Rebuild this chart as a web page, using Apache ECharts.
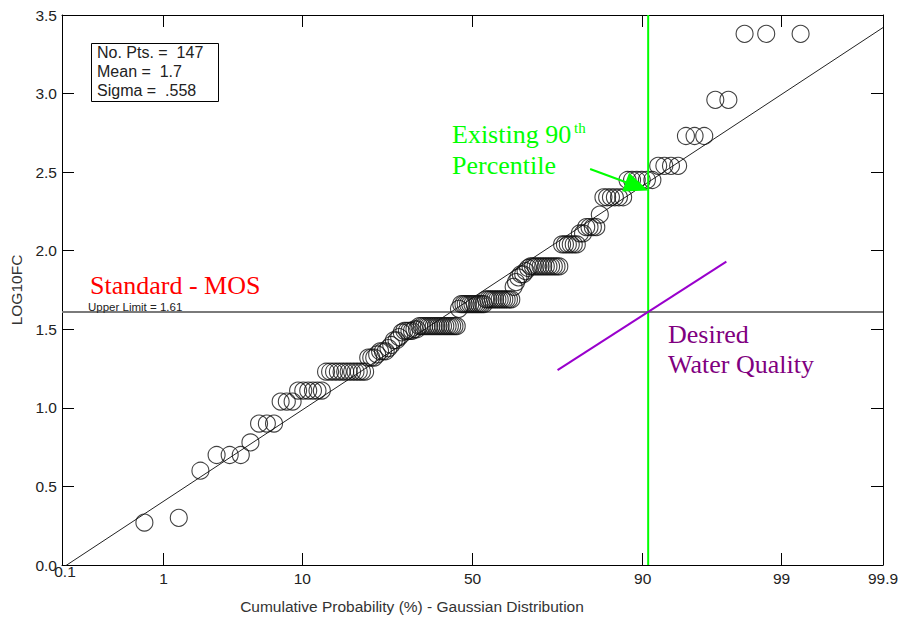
<!DOCTYPE html>
<html><head><meta charset="utf-8">
<script src="https://cdn.jsdelivr.net/npm/echarts@6/dist/echarts.min.js"></script>
<style>html,body{margin:0;padding:0;background:#fff}#c{width:903px;height:620px}</style>
</head><body><div id="c"></div>
<script>
// ---- data ----
const xTickPercents = [0.1, 1, 10, 50, 90, 99, 99.9];
const xTickLabels = ['0.1', '1', '10', '50', '90', '99', '99.9'];
const yMin = 0, yMax = 3.5, yStep = 0.5;
// sorted LOG10FC sample values (147 points)
const log10fc = [
  0.27, 0.30, 0.60, 0.70, 0.70, 0.70, 0.78, 0.90, 0.90, 0.90, 1.04, 1.04, 1.04,
  1.11, 1.11, 1.11, 1.11, 1.11, 1.11,
  1.23, 1.23, 1.23, 1.23, 1.23, 1.23, 1.23, 1.23, 1.23, 1.23, 1.23, 1.23,
  1.32, 1.32, 1.32, 1.34, 1.36, 1.36, 1.36, 1.38, 1.40, 1.43, 1.43, 1.45, 1.48, 1.49, 1.49, 1.49, 1.49, 1.50, 1.50,
  1.52, 1.52, 1.52, 1.52, 1.52, 1.52, 1.52, 1.52, 1.52, 1.52, 1.52, 1.52, 1.52, 1.52, 1.52, 1.52, 1.52,
  1.63,
  1.66, 1.66, 1.66, 1.66, 1.66, 1.66, 1.66, 1.66, 1.66, 1.66, 1.66,
  1.69, 1.69, 1.69, 1.69, 1.69, 1.69, 1.69, 1.69, 1.69, 1.69, 1.69, 1.69,
  1.77, 1.80, 1.83, 1.85, 1.85, 1.87, 1.89,
  1.90, 1.90, 1.90, 1.90, 1.90, 1.90, 1.90, 1.90, 1.90, 1.90, 1.90, 1.90,
  2.04, 2.04, 2.04, 2.04, 2.04, 2.04,
  2.11, 2.11, 2.15, 2.15, 2.15, 2.15, 2.23,
  2.34, 2.34, 2.34, 2.34, 2.34, 2.34,
  2.45, 2.45, 2.45, 2.45, 2.45, 2.45,
  2.54, 2.54, 2.54, 2.54,
  2.73, 2.73, 2.73,
  2.96, 2.96,
  3.38, 3.38, 3.38
];
const statLabels = ['No. Pts. =  147', 'Mean =  1.7', 'Sigma =  .558'];
const fitPct = [0.1, 99.9];
const fitVal = [-0.02, 3.42];
const upperLimit = 1.61;
const greenPct = 90.7;
const purplePct = [73.9, 97.2];
const purpleVal = [1.24, 1.93];
const arrowPct = [81.2, 89.2];
const arrowVal = [2.52, 2.41];

// ---- Gaussian probability scale (inverse normal CDF) ----
function invNorm(p) {
  const a = [-3.969683028665376e+01, 2.209460984245205e+02, -2.759285104469687e+02, 1.383577518672690e+02, -3.066479806614716e+01, 2.506628277459239e+00];
  const b = [-5.447609879822406e+01, 1.615858368580409e+02, -1.556989798598866e+02, 6.680131188771972e+01, -1.328068155288572e+01];
  const c = [-7.784894002430293e-03, -3.223964580411365e-01, -2.400758277161838e+00, -2.549732539343734e+00, 4.374664141464968e+00, 2.938163982698783e+00];
  const d = [7.784695709041462e-03, 3.224671290700398e-01, 2.445134137142996e+00, 3.754408661907416e+00];
  const pl = 0.02425, ph = 1 - pl;
  let q, r;
  if (p < pl) { q = Math.sqrt(-2 * Math.log(p)); return (((((c[0]*q+c[1])*q+c[2])*q+c[3])*q+c[4])*q+c[5]) / ((((d[0]*q+d[1])*q+d[2])*q+d[3])*q+1); }
  if (p <= ph) { q = p - 0.5; r = q*q; return (((((a[0]*r+a[1])*r+a[2])*r+a[3])*r+a[4])*r+a[5])*q / (((((b[0]*r+b[1])*r+b[2])*r+b[3])*r+b[4])*r+1); }
  q = Math.sqrt(-2 * Math.log(1 - p)); return -(((((c[0]*q+c[1])*q+c[2])*q+c[3])*q+c[4])*q+c[5]) / ((((d[0]*q+d[1])*q+d[2])*q+d[3])*q+1);
}
const zOf = pct => invNorm(pct / 100);
const xTickZ = xTickPercents.map(zOf);
const zMin = xTickZ[0], zMax = xTickZ[xTickZ.length - 1];
const n = log10fc.length;
// Weibull plotting position of each ranked value
const scatterData = log10fc.map((v, i) => [invNorm((i + 1) / (n + 1)), v]);

const SANS = '"Liberation Sans", Arial, sans-serif';
const SERIF = '"Liberation Serif", "Times New Roman", serif';
const labelFor = v => { for (let i = 0; i < xTickZ.length; i++) if (Math.abs(xTickZ[i] - v) < 1e-7) return i === 0 ? '' : xTickLabels[i]; return ''; };

const xBase = {
  type: 'value', min: zMin, max: zMax,
  axisLine: { show: true, onZero: false, lineStyle: { color: '#000', width: 1 } },
  axisTick: { show: true, inside: true, length: 12, customValues: xTickZ, lineStyle: { color: '#000', width: 1 } },
  splitLine: { show: false }
};
const yBase = {
  type: 'value', min: yMin, max: yMax, interval: yStep,
  axisLine: { show: true, onZero: false, lineStyle: { color: '#000', width: 1 } },
  axisTick: { show: true, inside: true, length: 12, lineStyle: { color: '#000', width: 1 } },
  splitLine: { show: false }
};

const chart = echarts.init(document.getElementById('c'), null, { renderer: 'svg' });
chart.setOption({
  animation: false,
  backgroundColor: '#fff',
  grid: { left: 62, right: 20, top: 15, bottom: 55, containLabel: false, outerBoundsMode: 'none' },
  xAxis: [
    Object.assign({}, xBase, { position: 'bottom',
      axisLabel: { show: true, customValues: xTickZ, formatter: labelFor, color: '#222', fontSize: 15.5, fontFamily: SANS, margin: 5, showMinLabel: true, showMaxLabel: true } }),
    Object.assign({}, xBase, { position: 'top', axisLabel: { show: false } })
  ],
  yAxis: [
    Object.assign({}, yBase, { position: 'left',
      name: 'LOG10FC', nameLocation: 'middle', nameGap: 38,
      nameTextStyle: { color: '#333', fontSize: 15.5, fontFamily: SANS },
      axisLabel: { show: true, formatter: v => v.toFixed(1), color: '#222', fontSize: 15.5, fontFamily: SANS, margin: 5 } }),
    Object.assign({}, yBase, { position: 'right', axisLabel: { show: false } })
  ],
  series: [
    { type: 'line', name: 'upper', data: [[zMin, upperLimit], [zMax, upperLimit]],
      showSymbol: false, lineStyle: { color: '#7a7a7a', width: 2 }, silent: true, z: 2 },
    { type: 'line', name: 'fit', data: fitPct.map((p, i) => [zOf(p), fitVal[i]]),
      showSymbol: false, lineStyle: { color: '#222', width: 1 }, silent: true, clip: true, z: 2 },
    { type: 'scatter', name: 'LOG10FC', data: scatterData, symbol: 'circle', symbolSize: 17,
      itemStyle: { color: 'rgba(0,0,0,0)', borderColor: '#111', borderWidth: 1.1 }, z: 3 },
    { type: 'line', name: 'p90', data: [[zOf(greenPct), yMin], [zOf(greenPct), yMax]],
      showSymbol: false, lineStyle: { color: '#00ff00', width: 2 }, silent: true, z: 4 },
    { type: 'line', name: 'desired', data: purplePct.map((p, i) => [zOf(p), purpleVal[i]]),
      showSymbol: false, lineStyle: { color: '#9900cc', width: 2 }, silent: true, z: 4 },
    { type: 'line', name: 'arrow', data: [], silent: true, z: 5,
      markLine: { silent: true, symbol: ['none', 'triangle'], symbolSize: [20, 24], animation: false,
        label: { show: false }, lineStyle: { color: '#00ff00', width: 2, type: 'solid' },
        data: [[{ coord: [zOf(arrowPct[0]), arrowVal[0]] }, { coord: [zOf(arrowPct[1]), arrowVal[1]] }]] } }
  ],
  graphic: [
    { type: 'text', x: 65, y: 571, style: { text: xTickLabels[0], fill: '#222', font: '15.5px ' + SANS, align: 'center', verticalAlign: 'middle' } },
    { type: 'text', x: 412, y: 606, style: { text: 'Cumulative Probability (%) - Gaussian Distribution', fill: '#333', font: '15.5px ' + SANS, align: 'center', verticalAlign: 'middle' } },
    { type: 'rect', x: 91.5, y: 43.5, shape: { width: 127, height: 58 }, style: { fill: '#fff', stroke: '#000', lineWidth: 1 }, z: 10 },
    { type: 'text', x: 97, y: 52, style: { text: statLabels[0], fill: '#222', font: '16px ' + SANS, verticalAlign: 'middle' }, z: 11 },
    { type: 'text', x: 97, y: 71, style: { text: statLabels[1], fill: '#222', font: '16px ' + SANS, verticalAlign: 'middle' }, z: 11 },
    { type: 'text', x: 97, y: 90, style: { text: statLabels[2], fill: '#222', font: '16px ' + SANS, verticalAlign: 'middle' }, z: 11 },
    { type: 'text', x: 90, y: 285, style: { text: 'Standard - MOS', fill: '#ff0000', font: '26px ' + SERIF, verticalAlign: 'middle' }, z: 11 },
    { type: 'text', x: 88, y: 306.5, style: { text: 'Upper Limit = ' + upperLimit, fill: '#222', font: '11.5px ' + SANS, verticalAlign: 'middle' }, z: 11 },
    { type: 'text', x: 452, y: 134.5, style: { text: 'Existing 90', fill: '#00ff00', font: '26px ' + SERIF, verticalAlign: 'middle' }, z: 11 },
    { type: 'text', x: 574, y: 128, style: { text: 'th', fill: '#00ff00', font: '15px ' + SERIF, verticalAlign: 'middle' }, z: 11 },
    { type: 'text', x: 452, y: 165, style: { text: 'Percentile', fill: '#00ff00', font: '26px ' + SERIF, verticalAlign: 'middle' }, z: 11 },
    { type: 'text', x: 668, y: 334.5, style: { text: 'Desired', fill: '#800080', font: '26px ' + SERIF, verticalAlign: 'middle' }, z: 11 },
    { type: 'text', x: 668, y: 364.5, style: { text: 'Water Quality', fill: '#800080', font: '26px ' + SERIF, verticalAlign: 'middle' }, z: 11 }
  ]
});
</script>
</body></html>
